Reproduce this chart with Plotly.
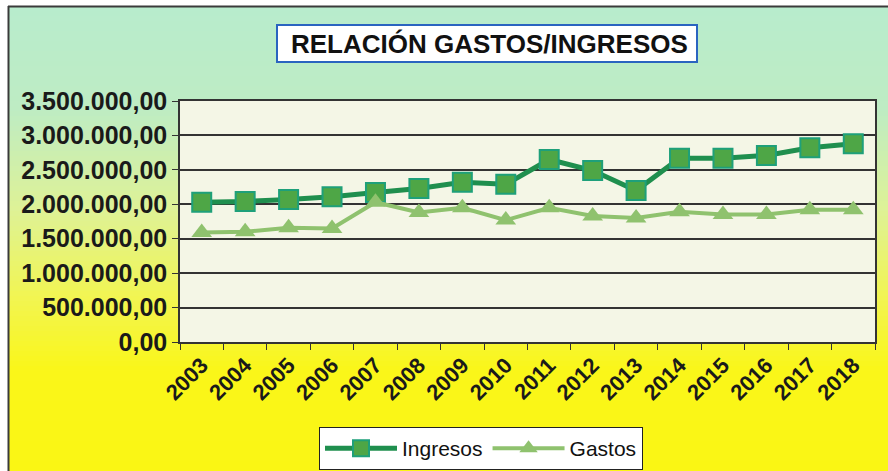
import plotly.graph_objects as go

# Datos
anios = ["2003", "2004", "2005", "2006", "2007", "2008", "2009", "2010",
         "2011", "2012", "2013", "2014", "2015", "2016", "2017", "2018"]
ingresos = [2030000, 2040000, 2070000, 2110000, 2170000, 2230000, 2320000, 2290000,
            2650000, 2490000, 2200000, 2670000, 2670000, 2710000, 2820000, 2880000]
gastos = [1590000, 1600000, 1660000, 1650000, 2030000, 1880000, 1950000, 1770000,
          1950000, 1830000, 1800000, 1890000, 1850000, 1850000, 1920000, 1920000]

W, H = 888, 471
L, R, T, B = 180, 13, 101, 129
pw, ph = W - L - R, H - T - B


def px(x):
    return (x - L) / pw


def py(y):
    return (H - B - y) / ph


# degradado de fondo (verde menta arriba -> amarillo abajo)
stops = [(6, (184, 236, 205)), (110, (190, 236, 195)), (210, (222, 242, 150)),
         (300, (242, 245, 80)), (370, (250, 246, 25)), (471, (250, 246, 20))]


def col_at(y):
    for (y0, c0), (y1, c1) in zip(stops, stops[1:]):
        if y0 <= y <= y1:
            t = (y - y0) / (y1 - y0)
            return "rgb(%d,%d,%d)" % tuple(round(a + (b - a) * t) for a, b in zip(c0, c1))
    return "rgb(%d,%d,%d)" % stops[-1][1]


shapes = []
step = 5
for y in range(6, 471, step):
    shapes.append(dict(type="rect", xref="paper", yref="paper", layer="below",
                       x0=px(8), x1=px(889), y0=py(y), y1=py(min(y + step + 1, 472)),
                       line=dict(width=0), fillcolor=col_at(y + step / 2)))
# área de trazado crema
shapes.append(dict(type="rect", xref="paper", yref="paper", layer="below",
                   x0=0, x1=1, y0=0, y1=1, line=dict(width=0), fillcolor="#f4f6e6"))
# marco exterior (arriba e izquierda)
shapes.append(dict(type="line", xref="paper", yref="paper", x0=px(8), x1=px(889),
                   y0=py(6.5), y1=py(6.5), line=dict(color="#3a3a3a", width=2)))
shapes.append(dict(type="line", xref="paper", yref="paper", x0=px(8.5), x1=px(8.5),
                   y0=py(6), y1=py(472), line=dict(color="#3a3a3a", width=2)))
# caja del título
shapes.append(dict(type="rect", xref="paper", yref="paper", x0=px(277), x1=px(697),
                   y0=py(25), y1=py(62), fillcolor="white",
                   line=dict(color="#2a64c0", width=2)))

fig = go.Figure()
fig.add_trace(go.Scatter(
    x=anios, y=ingresos, name="Ingresos", mode="lines+markers",
    line=dict(color="#1f8f4e", width=5),
    marker=dict(symbol="square", size=19, color="#4ea646",
                line=dict(color="#1ea07a", width=2)),
))
fig.add_trace(go.Scatter(
    x=anios, y=gastos, name="Gastos", mode="lines+markers",
    line=dict(color="#8fc26e", width=4),
    marker=dict(symbol="triangle-up", size=18, color="#8fc26e"),
))

fig.update_layout(
    width=W, height=H,
    margin=dict(l=L, r=R, t=T, b=B, autoexpand=False),
    paper_bgcolor="white", plot_bgcolor="rgba(0,0,0,0)",
    separators=",.",
    shapes=shapes,
    font=dict(family="Arial, Liberation Sans", color="#1a1a1a"),
    showlegend=True,
    legend=dict(orientation="h", x=px(481), xanchor="center", y=py(427), yanchor="top",
                bgcolor="white", bordercolor="#222", borderwidth=1,
                font=dict(size=21, color="#111"), itemwidth=72),
    annotations=[dict(
        text="RELACIÓN GASTOS/INGRESOS", xref="paper", yref="paper",
        x=px(489), y=py(44), xanchor="center", yanchor="middle", showarrow=False,
        font=dict(size=26, color="#111", weight="bold"),
    )],
)
fig.update_xaxes(
    type="category", range=[-0.5, 15.5], tickson="boundaries",
    ticks="outside", ticklen=6, tickcolor="#333", tickangle=-45,
    showline=True, linecolor="#333", linewidth=1.5, mirror=True,
    showgrid=False,
    tickfont=dict(size=22, weight="bold", color="#1a1a1a"),
)
fig.update_yaxes(
    range=[0, 3500000], dtick=500000, tickformat=",.2f",
    ticks="outside", ticklen=6, tickcolor="#333",
    showline=True, linecolor="#333", linewidth=1.5, mirror=True,
    showgrid=True, gridcolor="#333", gridwidth=1.5, zeroline=False,
    tickfont=dict(size=25, weight="bold", color="#1a1a1a"),
)

fig.write_html("out.html", config={"displayModeBar": False},
               post_script="document.body.style.margin='0';")
